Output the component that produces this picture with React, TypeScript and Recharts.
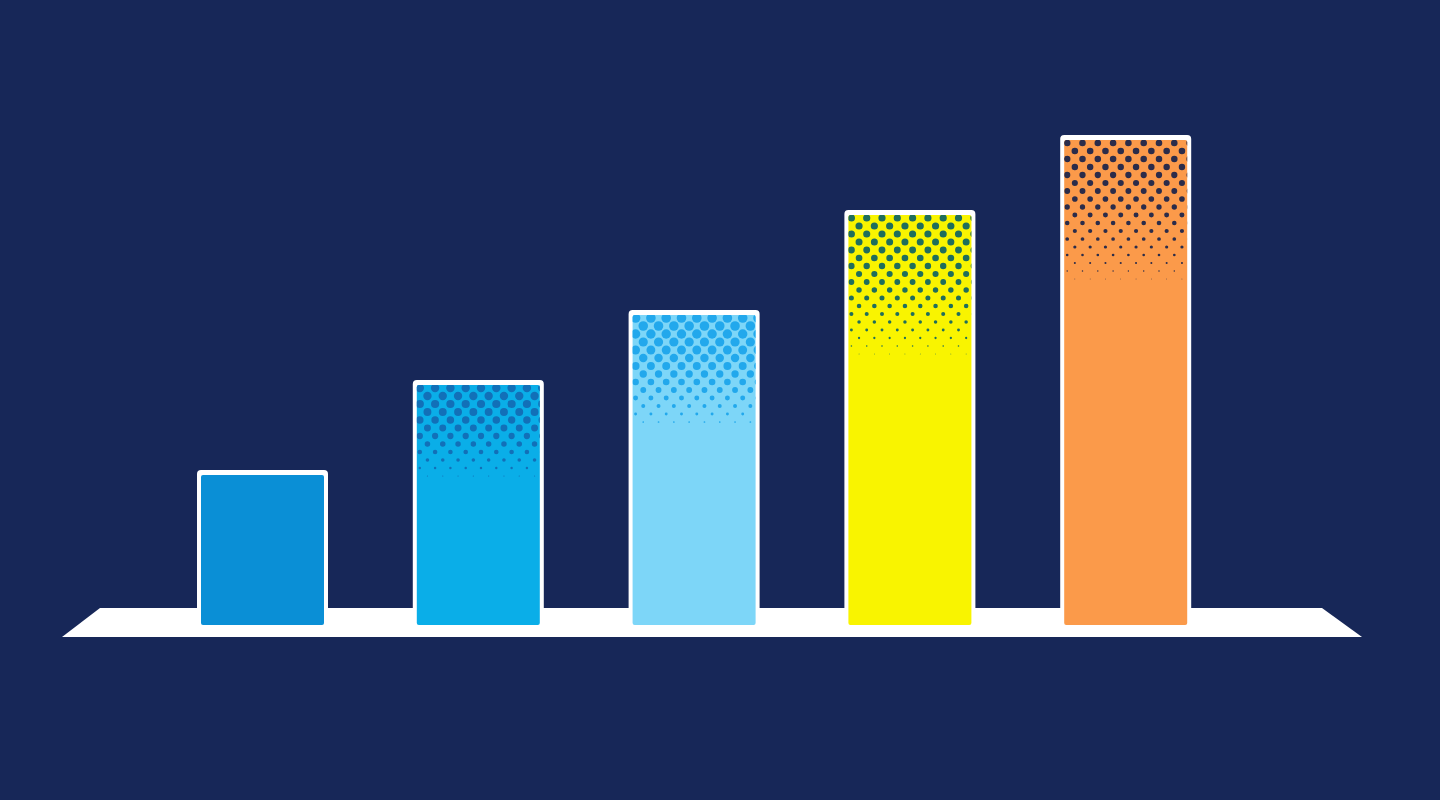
import React from 'react';
import { BarChart, Bar, XAxis, YAxis, useOffset, useChartWidth, useChartHeight } from 'recharts';

// data
const categories = ['A', 'B', 'C', 'D', 'E'];
const values = [30, 48, 62, 82, 97];

// look of each bar: fill, halftone dot colour, fade depth (px), top dot radius
const BAR_STYLES = [
  { fill: '#0a8fd6', dot: '#0a8fd6', depth: 0, rMax: 0 },
  { fill: '#0aaee8', dot: '#1270b8', depth: 95, rMax: 4.2 },
  { fill: '#7dd6f8', dot: '#22a8ec', depth: 115, rMax: 4.8 },
  { fill: '#f9f400', dot: '#1f6e5c', depth: 145, rMax: 3.6 },
  { fill: '#fb9a4a', dot: '#2b2c4a', depth: 145, rMax: 3.3 },
];

const BG = '#172758';

const data = categories.map((name, i) => ({ name, value: values[i] }));

// white slanted platform under the bars, placed from the plot area
const Platform = () => {
  const offset = useOffset();
  const w = useChartWidth();
  const h = useChartHeight();
  if (!offset || !w || !h) return null;
  const base = h - offset.bottom;
  const left = offset.left;
  const right = w - offset.right;
  const pts = [
    [left - 55, base - 17],
    [right + 88, base - 17],
    [right + 128, base + 12],
    [left - 93, base + 12],
  ];
  return <polygon points={pts.map((p) => p.join(',')).join(' ')} fill="#ffffff" />;
};

const HalftoneBar = (props: any) => {
  const { x, y, width, height, index } = props;
  const st = BAR_STYLES[index];
  const dots: React.ReactNode[] = [];
  if (st.depth > 0) {
    const rowGap = 8;
    const colGap = 15.3;
    for (let r = 0; r * rowGap < st.depth; r++) {
      const t = (r * rowGap) / st.depth;
      const rad = st.rMax * (1 - t * t);
      if (rad < 0.35) continue;
      const cy = y + 3 + r * rowGap;
      const shift = r % 2 ? colGap / 2 : 0;
      for (let cx = x + 3 + shift; cx < x + width + colGap / 2; cx += colGap) {
        dots.push(<circle key={`${r}-${cx}`} cx={cx} cy={cy} r={rad} fill={st.dot} />);
      }
    }
  }
  const clipId = `bar-clip-${index}`;
  return (
    <g>
      <rect x={x - 4} y={y - 5} width={width + 8} height={height + 9} rx={4} fill="#ffffff" />
      <defs>
        <clipPath id={clipId}>
          <rect x={x} y={y} width={width} height={height} rx={2} />
        </clipPath>
      </defs>
      <rect x={x} y={y} width={width} height={height} rx={2} fill={st.fill} />
      <g clipPath={`url(#${clipId})`}>{dots}</g>
    </g>
  );
};

export default function App() {
  return (
    <div style={{ position: 'absolute', top: 0, left: 0, width: 1440, height: 800, background: BG }}>
      <BarChart
        width={1440}
        height={800}
        data={data}
        margin={{ top: 125, right: 206, bottom: 175, left: 155 }}
      >
        <XAxis dataKey="name" hide />
        <YAxis domain={[0, 100]} hide />
        <Platform />
        <Bar dataKey="value" barSize={123} shape={HalftoneBar} isAnimationActive={false} />
      </BarChart>
    </div>
  );
}
